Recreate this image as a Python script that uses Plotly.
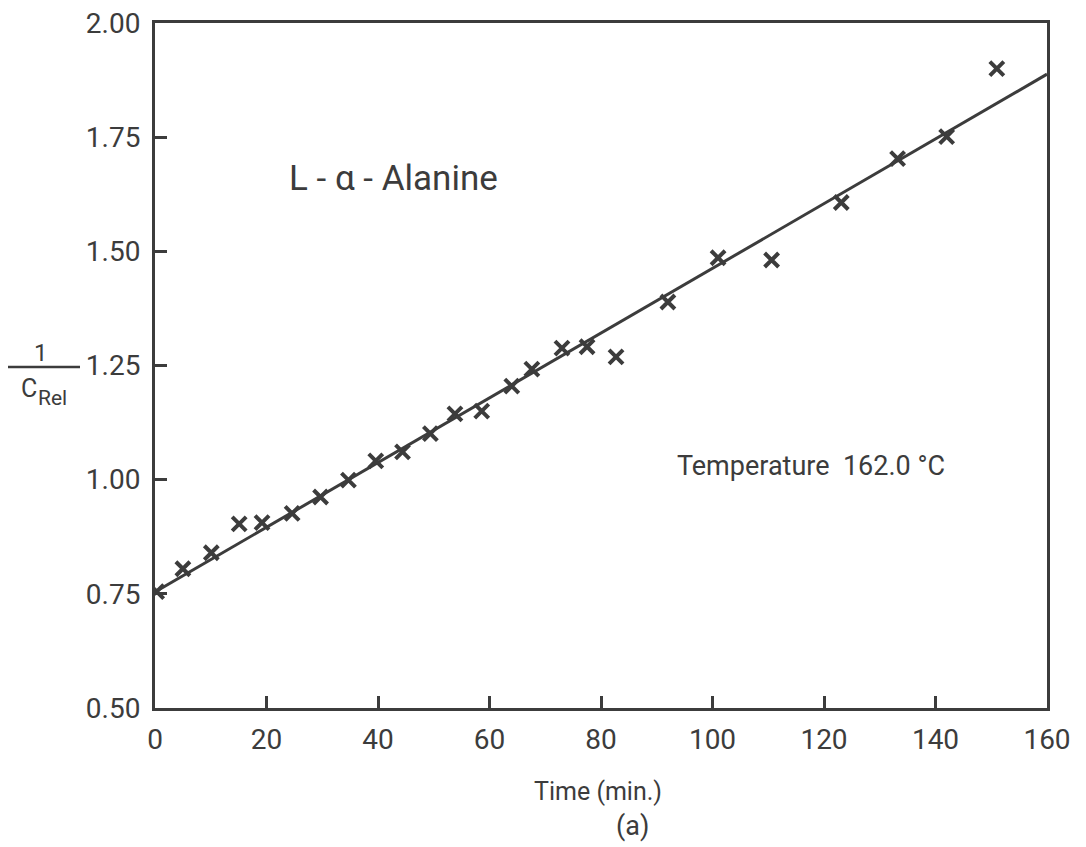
import plotly.graph_objects as go

# Data
time_min = [0.3, 5.0, 10.1, 15.1, 19.2, 24.6, 29.7, 34.7, 39.6, 44.4, 49.4, 53.8, 58.6,
            64.0, 67.6, 73.0, 77.5, 82.7, 92.0, 101.0, 110.6, 123.1, 133.2, 142.0, 151.0]
inv_c_rel = [0.755, 0.805, 0.840, 0.903, 0.906, 0.926, 0.962, 0.999, 1.041, 1.061, 1.101,
             1.144, 1.150, 1.205, 1.242, 1.288, 1.291, 1.269, 1.389, 1.486, 1.481, 1.607,
             1.703, 1.751, 1.900]
fit_x = [0, 160]
fit_y = [0.754, 1.888]

x_ticks = [0, 20, 40, 60, 80, 100, 120, 140, 160]
y_ticks = [0.50, 0.75, 1.00, 1.25, 1.50, 1.75, 2.00]
y_tick_labels = ["0.50", "0.75", "1.00", "1.25", "1.50", "1.75", "2.00"]

OFF = 8  # page body margin
W, H = 1078, 839
L, T = 155 - OFF, 23 - OFF
PW, PH = 892, 685
R, B = W - L - PW, H - T - PH
INK = "#3c3c3c"
FONT = "Roboto"

def px(xp):
    return (xp - OFF - L) / PW

def py(yp):
    return 1 - (yp - OFF - T) / PH

fig = go.Figure()
fig.add_trace(go.Scatter(x=fit_x, y=fit_y, mode="lines",
                         line=dict(color=INK, width=3), showlegend=False,
                         hoverinfo="skip"))
fig.add_trace(go.Scatter(x=time_min, y=inv_c_rel, mode="markers",
                         marker=dict(symbol="x-thin", size=14,
                                     line=dict(color=INK, width=4)),
                         showlegend=False))

axis_common = dict(showline=True, linecolor=INK, linewidth=3, mirror=True,
                   ticks="inside", ticklen=12, tickwidth=2.5, tickcolor=INK,
                   showgrid=False, zeroline=False, ticklabeloverflow="allow",
                   automargin=False,
                   tickfont=dict(family=FONT, size=28, color=INK))

fig.update_xaxes(range=[0, 160], tickvals=x_ticks, ticktext=[str(v) for v in x_ticks],
                 ticklabelstandoff=4, **axis_common)
fig.update_yaxes(range=[0.5, 2.0], tickvals=y_ticks, ticktext=y_tick_labels,
                 ticklabelstandoff=6, **axis_common)

def note(xp, yp, text, size):
    return dict(x=px(xp), y=py(yp), xref="paper", yref="paper", text=text,
                xanchor="center", yanchor="middle",
                font=dict(family=FONT, size=size, color=INK), showarrow=False)

ann = [
    note(393, 178, "L - α - Alanine", 35),
    note(811, 466, "Temperature  162.0 °C", 27),
    note(598, 791, "Time (min.)", 25),
    note(632, 826, "(a)", 27),
    note(41, 353, "1", 24),
    note(29, 388, "C", 25),
    note(52, 398, "Rel", 21),
]

fig.update_layout(
    width=W, height=H,
    margin=dict(l=L, r=R, t=T, b=B, autoexpand=False),
    paper_bgcolor="white", plot_bgcolor="white",
    annotations=ann,
    shapes=[dict(type="line", xref="paper", yref="paper",
                 x0=px(8), x1=px(80), y0=py(367), y1=py(367),
                 line=dict(color=INK, width=2.5))],
)

fig.write_html("out.html")
